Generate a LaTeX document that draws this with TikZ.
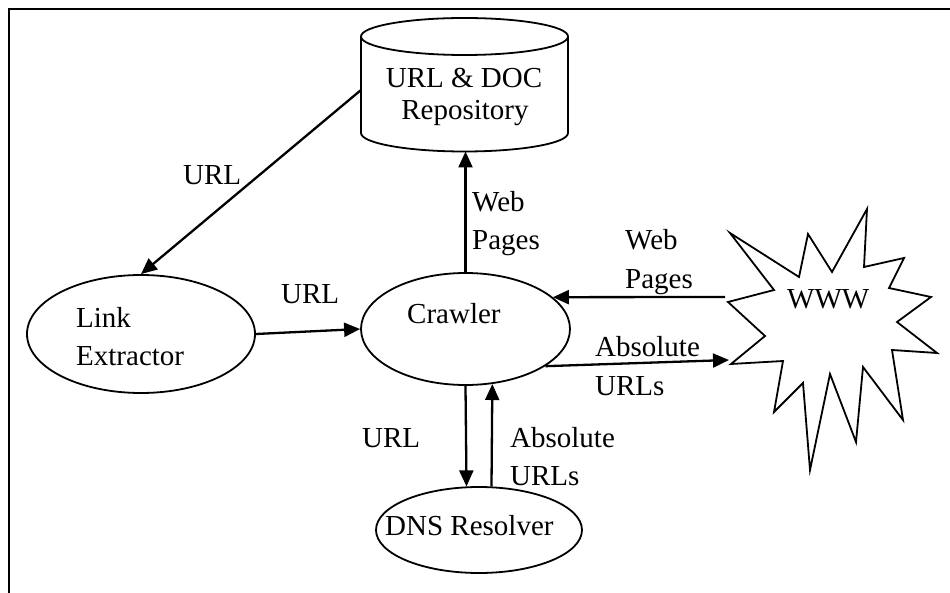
\documentclass[tikz,border=0pt]{standalone}
\usepackage{fontspec}
\setmainfont{Liberation Serif}
\usetikzlibrary{shapes.geometric,arrows.meta}
\tikzset{
  shapebox/.style={ellipse,draw,line width=1.8pt,inner sep=0pt},
  lbl/.style={anchor=base west,inner sep=0pt,font=\fontsize{29}{32}\selectfont},
  clbl/.style={anchor=base,inner sep=0pt,font=\fontsize{29}{32}\selectfont},
  arr/.style={line width=2.3pt,-{Triangle[length=16pt,width=14pt]}},
  outline/.style={line width=1.8pt,line join=miter}
}
\begin{document}
\begin{tikzpicture}[x=1pt,y=-1pt]
\useasboundingbox (0,0) rectangle (950,593);
\fill[white] (0,0) rectangle (950,593);
% frame
\draw[line width=2pt] (9,593) -- (9,9) -- (950,9);

% repository cylinder
\draw[outline] (361,36.5) -- (361,133)
  arc[start angle=180,end angle=360,x radius=103.5pt,y radius=18.5pt] -- (568,36.5);
\draw[outline] (464.5,36.5) ellipse[x radius=103.5pt,y radius=18.5pt];
\coordinate (repoL) at (361,90);
\coordinate (repoB) at (465.5,151.5);
\node[clbl] (repo1) at (464,88) {URL \& DOC};
\node[clbl] (repo2) at (465,120) {Repository};

% ellipses
\node[shapebox,minimum width=228pt,minimum height=118pt] (link) at (141,334) {};
\node[shapebox,minimum width=209pt,minimum height=112pt] (crawler) at (465.5,329) {};
\node[shapebox,minimum width=206pt,minimum height=86pt] (dns) at (479,530) {};
\node[lbl] (linkA) at (76,328) {Link};
\node[lbl] (linkB) at (76,366) {Extractor};
\node[lbl] (crawlT) at (407,324) {Crawler};
\node[lbl] (dnsT) at (385,535) {DNS Resolver};

% WWW burst
\draw[outline] (867,209) -- (864,267) -- (904,258) -- (889,288) -- (931,297)
  -- (897,322) -- (937,353) -- (892,350) -- (903,420) -- (863,367)
  -- (856,442) -- (830,374) -- (810,470) -- (803,383) -- (774,412)
  -- (783,361) -- (731,364) -- (765,336) -- (728,302) -- (774,290)
  -- (730,233) -- (799,277) -- (808,234) -- (832,272) -- cycle;
\node[lbl] (wwwT) at (787,309) {WWW};
\coordinate (wwwOut) at (725,297);
\coordinate (wwwIn) at (729,360);

% connectors
\draw[arr] (repoL) -- (link.north);
\draw[arr] (link.east) -- (crawler.west);
\draw[arr] (crawler.north) -- (repoB);
\draw[arr] (wwwOut) -- (crawler.20.5);
\draw[arr] (crawler.-25.5) -- (wwwIn);
\draw[arr] (crawler.south) -- (dns.106.9);
\draw[arr] (dns.74.3) -- (crawler.-64.8);

% connector labels
\node[lbl] (l1) at (183,185) {URL};
\node[lbl] (l2) at (281,304) {URL};
\node[lbl] (l3a) at (472,212) {Web};
\node[lbl] (l3b) at (472,250) {Pages};
\node[lbl] (l4a) at (625,250) {Web};
\node[lbl] (l4b) at (625,289) {Pages};
\node[lbl] (l5a) at (595,356) {Absolute};
\node[lbl] (l5b) at (595,395) {URLs};
\node[lbl] (l6) at (362,447) {URL};
\node[lbl] (l7a) at (510,447) {Absolute};
\node[lbl] (l7b) at (510,485) {URLs};
\end{tikzpicture}
\end{document}
